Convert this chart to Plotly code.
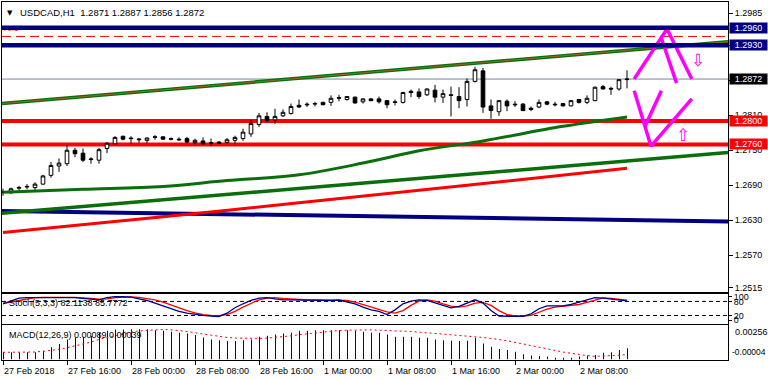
import plotly.graph_objects as go

# ---------------- data ----------------
bars = list(range(79))
opens = [1.2679,1.2677,1.2685,1.2687,1.2686,1.2692,1.2707,1.2723,1.2727,1.2750,
         1.2745,1.2734,1.2733,1.2753,1.2761,1.2774,1.2771,1.2768,1.2767,1.2772,
         1.2773,1.2770,1.2769,1.2770,1.2763,1.2766,1.2763,1.2764,1.2763,1.2767,
         1.2770,1.2778,1.2794,1.2808,1.2802,1.2809,1.2813,1.2827,1.2829,1.2829,
         1.2832,1.2832,1.2839,1.2837,1.2841,1.2833,1.2838,1.2838,1.2835,1.2833,
         1.2832,1.2851,1.2850,1.2845,1.2853,1.2841,1.2845,1.2842,1.2837,1.2868,
         1.2886,1.2826,1.2816,1.2834,1.2829,1.2829,1.2822,1.2824,1.2833,1.2829,
         1.2830,1.2826,1.2837,1.2832,1.2835,1.2859,1.2856,1.2855,1.2871]
highs = [1.2684,1.2686,1.2689,1.2692,1.2695,1.2708,1.2730,1.2736,1.2759,1.2754,
         1.2753,1.2738,1.2754,1.2764,1.2774,1.2775,1.2774,1.2771,1.2772,1.2776,
         1.2774,1.2772,1.2772,1.2773,1.2770,1.2772,1.2770,1.2766,1.2771,1.2775,
         1.2787,1.2803,1.2814,1.2815,1.2821,1.2820,1.2830,1.2837,1.2832,1.2833,
         1.2833,1.2844,1.2845,1.2843,1.2842,1.2839,1.2839,1.2842,1.2836,1.2837,
         1.2850,1.2854,1.2856,1.2856,1.2862,1.2854,1.2859,1.2858,1.2873,1.2893,
         1.2891,1.2837,1.2835,1.2837,1.2834,1.2831,1.2825,1.2837,1.2834,1.2833,
         1.2831,1.2836,1.2838,1.2844,1.2859,1.2862,1.2859,1.2872,1.2887]
lows = [1.2672,1.2676,1.2680,1.2683,1.2680,1.2691,1.2703,1.2713,1.2723,1.2738,
        1.2730,1.2727,1.2727,1.2745,1.2760,1.2767,1.2761,1.2763,1.2762,1.2768,
        1.2768,1.2767,1.2766,1.2762,1.2760,1.2759,1.2757,1.2761,1.2762,1.2760,
        1.2766,1.2773,1.2790,1.2798,1.2795,1.2807,1.2811,1.2823,1.2824,1.2825,
        1.2827,1.2826,1.2834,1.2835,1.2830,1.2830,1.2834,1.2830,1.2822,1.2827,
        1.2830,1.2841,1.2838,1.2843,1.2832,1.2831,1.2808,1.2822,1.2825,1.2866,
        1.2814,1.2804,1.2809,1.2817,1.2824,1.2817,1.2817,1.2822,1.2827,1.2825,
        1.2825,1.2825,1.2830,1.2829,1.2834,1.2854,1.2845,1.2852,1.2856]
closes = [1.2678,1.2684,1.2686,1.2688,1.2692,1.2706,1.2724,1.2728,1.2750,1.2744,
          1.2733,1.2735,1.2751,1.2762,1.2772,1.2769,1.2770,1.2769,1.2771,1.2773,
          1.2769,1.2769,1.2768,1.2764,1.2767,1.2761,1.2762,1.2762,1.2768,1.2772,
          1.2781,1.2796,1.2809,1.2801,1.2808,1.2815,1.2825,1.2824,1.2828,1.2830,
          1.2828,1.2839,1.2840,1.2842,1.2831,1.2838,1.2835,1.2833,1.2828,1.2832,
          1.2849,1.2849,1.2842,1.2855,1.2841,1.2847,1.2844,1.2835,1.2868,1.2888,
          1.2824,1.2818,1.2835,1.2826,1.2828,1.2818,1.2820,1.2832,1.2829,1.2828,
          1.2826,1.2835,1.2832,1.2839,1.2858,1.2855,1.2855,1.2871,1.2872]

stoch_k = [70,81,94,96,96,98,98,96,98,96,
           93,90,87,96,100,100,98,91,84,73,
           61,50,38,30,24,21,18,16,30,53,
           70,84,94,96,91,87,87,86,84,84,
           84,84,86,77,70,56,44,38,24,44,
           70,81,87,84,73,61,53,59,73,87,
           73,41,18,16,16,16,27,49,61,61,
           61,67,76,87,96,94,89,86,82.1138]
stoch_d = [73,76,84,91,96,97,98,98,97,97,
           96,93,90,91,96,98,99,97,93,87,
           77,64,53,41,31,24,21,20,24,38,
           56,73,87,94,96,93,90,89,87,87,
           87,87,87,84,77,67,56,44,36,30,
           41,63,81,87,81,70,60,56,61,73,
           76,63,41,24,18,18,21,34,47,56,
           59,61,67,76,87,95,93,90,85.7772]

macd_main = [0.00057,0.00057,0.00057,0.00057,0.00057,0.00070,0.00097,0.00124,0.00162,0.00178,
             0.00183,0.00189,0.00216,0.00232,0.00243,0.00243,0.00245,0.00245,0.00245,0.00237,
             0.00232,0.00224,0.00216,0.00210,0.00197,0.00178,0.00162,0.00156,0.00148,0.00148,
             0.00156,0.00162,0.00183,0.00191,0.00202,0.00210,0.00216,0.00232,0.00232,0.00237,
             0.00237,0.00237,0.00237,0.00237,0.00232,0.00224,0.00216,0.00216,0.00202,0.00183,
             0.00183,0.00183,0.00175,0.00175,0.00162,0.00156,0.00151,0.00148,0.00151,0.00175,
             0.00129,0.00102,0.00084,0.00076,0.00062,0.00040,0.00030,0.00027,0.00022,0.00013,
             0.00008,0.00013,0.00022,0.00030,0.00035,0.00054,0.00057,0.00076,0.00089]
macd_signal = [0.00057,0.00057,0.00057,0.00057,0.00059,0.00065,0.00070,0.00081,0.00094,0.00108,
               0.00124,0.00140,0.00162,0.00178,0.00194,0.00210,0.00221,0.00232,0.00237,0.00243,
               0.00243,0.00240,0.00235,0.00227,0.00216,0.00205,0.00194,0.00186,0.00178,0.00173,
               0.00170,0.00170,0.00170,0.00173,0.00178,0.00183,0.00191,0.00200,0.00208,0.00216,
               0.00224,0.00229,0.00235,0.00237,0.00240,0.00240,0.00240,0.00237,0.00235,0.00232,
               0.00229,0.00227,0.00221,0.00216,0.00208,0.00202,0.00197,0.00191,0.00189,0.00186,
               0.00178,0.00170,0.00162,0.00151,0.00138,0.00124,0.00111,0.00097,0.00084,0.00070,
               0.00059,0.00049,0.00038,0.00030,0.00024,0.00025,0.00028,0.00033,0.00039]

time_label_bars = [0, 8, 16, 24, 32, 40, 48, 56, 64, 72]
time_labels = ["27 Feb 2018", "27 Feb 16:00", "28 Feb 00:00", "28 Feb 08:00", "28 Feb 16:00",
               "1 Mar 00:00", "1 Mar 08:00", "1 Mar 16:00", "2 Mar 00:00", "2 Mar 08:00"]

price_ticks = [1.2985, 1.2930, 1.2870, 1.2810, 1.2750, 1.2690, 1.2630, 1.2570, 1.2515]

ma_green_bars = [0, 10, 20, 28, 37, 45, 52, 60, 70, 78]
ma_green = [1.2678, 1.2683, 1.2688, 1.2698, 1.2708, 1.2728, 1.2749, 1.2766, 1.2791, 1.2807]
ma_red_bars = [0, 20, 37, 58, 78]
ma_red = [1.2609, 1.2636, 1.2660, 1.2690, 1.2719]

resistance_levels = [1.2960, 1.2930]
support_levels = [1.2800, 1.2760]
bid_price = 1.2872
dashed_level = 1.2945

trend_green_top = [1.2830, 1.2936]
trend_green_low = [1.2642, 1.2746]
trend_navy = [1.2646, 1.2628]

fc_up_bars = [78.9, 83.0, 86.1]
fc_up_prices = [1.2872, 1.2958, 1.2872]
fc_up2_bars = [82.3, 84.2]
fc_up2_prices = [1.2942, 1.2865]
fc_dn_bars = [78.9, 81.0, 86.1]
fc_dn_prices = [1.2852, 1.2757, 1.2838]
fc_dn2_bars = [82.3, 80.25]
fc_dn2_prices = [1.2852, 1.2791]
arrow_down_pos = (86.9, 1.2905)
arrow_up_pos = (85.0, 1.2776)

# ---------------- figure ----------------
X_RANGE = [-0.125, 90.625]
Y_MAIN = [1.2507, 1.3004]
Y_STOCH = [-14, 110]
Y_MACD = [-0.00006, 0.00282]

NAVY = "#000080"
RED = "#ff0000"
GREEN = "#0a6e0a"
MAG = "#ff00ff"
FONT = "Liberation Sans, Arial, sans-serif"

fig = go.Figure()

# trendlines
fig.add_trace(go.Scatter(x=X_RANGE, y=trend_navy, mode="lines",
                         line=dict(color=NAVY, width=4), hoverinfo="skip"))
fig.add_trace(go.Scatter(x=X_RANGE, y=trend_green_low, mode="lines",
                         line=dict(color=GREEN, width=3.5), hoverinfo="skip"))
fig.add_trace(go.Scatter(x=X_RANGE, y=trend_green_top, mode="lines",
                         line=dict(color=GREEN, width=3.5), hoverinfo="skip"))
fig.add_trace(go.Scatter(x=X_RANGE, y=trend_green_top, mode="lines",
                         line=dict(color="#8a6a2a", width=1), hoverinfo="skip"))
# moving averages
fig.add_trace(go.Scatter(x=ma_red_bars, y=ma_red, mode="lines",
                         line=dict(color=RED, width=3, shape="spline"), hoverinfo="skip"))
fig.add_trace(go.Scatter(x=ma_green_bars, y=ma_green, mode="lines",
                         line=dict(color=GREEN, width=3, shape="spline"), hoverinfo="skip"))
# small red label under the top line
fig.add_trace(go.Scatter(x=[0.0], y=[1.2958], mode="text", text=["70.1"],
                         textposition="middle right",
                         textfont=dict(color=RED, size=8, family=FONT), hoverinfo="skip"))

# candles
fig.add_trace(go.Candlestick(
    x=bars, open=opens, high=highs, low=lows, close=closes,
    increasing=dict(line=dict(color="black", width=1), fillcolor="white"),
    decreasing=dict(line=dict(color="black", width=1), fillcolor="black"),
    whiskerwidth=0, hoverinfo="skip"))

# forecast zigzags
for bx, py in [(fc_up_bars, fc_up_prices), (fc_up2_bars, fc_up2_prices),
               (fc_dn_bars, fc_dn_prices), (fc_dn2_bars, fc_dn2_prices)]:
    fig.add_trace(go.Scatter(x=bx, y=py, mode="lines",
                             line=dict(color=MAG, width=3.5), hoverinfo="skip"))

# stochastic
fig.add_trace(go.Scatter(x=bars, y=stoch_d, mode="lines", xaxis="x2", yaxis="y2",
                         line=dict(color=RED, width=1.3), hoverinfo="skip"))
fig.add_trace(go.Scatter(x=bars, y=stoch_k, mode="lines", xaxis="x2", yaxis="y2",
                         line=dict(color=NAVY, width=1.3), hoverinfo="skip"))

# MACD (1-px histogram lines, aligned on whole pixels)
fig.add_trace(go.Bar(x=bars, y=macd_main, xaxis="x3", yaxis="y3", width=0.125, offset=0,
                     marker=dict(color=NAVY, line=dict(width=0)), hoverinfo="skip"))
fig.add_trace(go.Scatter(x=bars, y=macd_signal, mode="lines", xaxis="x3", yaxis="y3",
                         line=dict(color=RED, width=1, dash="2px,3px"), hoverinfo="skip"))

shapes = []
for lvl in support_levels:
    shapes.append(dict(type="line", xref="paper", x0=0, x1=1, yref="y", y0=lvl, y1=lvl,
                       line=dict(color=RED, width=4), layer="below"))
shapes.append(dict(type="line", xref="paper", x0=0, x1=1, yref="y", y0=bid_price, y1=bid_price,
                   line=dict(color="#778899", width=1), layer="below"))
shapes.append(dict(type="line", xref="paper", x0=0, x1=1, yref="y", y0=dashed_level, y1=dashed_level,
                   line=dict(color=RED, width=1, dash="9px,5px"), layer="below"))
for lvl in resistance_levels:
    shapes.append(dict(type="line", xref="paper", x0=0, x1=1, yref="y", y0=lvl, y1=lvl,
                       line=dict(color=NAVY, width=4.5), layer="above"))
for lvl in [80, 20]:
    shapes.append(dict(type="line", xref="paper", x0=0, x1=1, yref="y2", y0=lvl, y1=lvl,
                       line=dict(color="black", width=1, dash="4px,3px"), layer="below"))

annotations = []
# price boxes on the right axis
for lvl, col in [(resistance_levels[0], NAVY), (resistance_levels[1], NAVY), (bid_price, "black"),
                 (support_levels[0], RED), (support_levels[1], RED)]:
    annotations.append(dict(xref="paper", x=1, xanchor="left", xshift=1, yref="y", y=lvl,
                            yanchor="middle", text=f"{lvl:.4f}", showarrow=False,
                            font=dict(color="white", size=9, family=FONT),
                            bgcolor=col, width=37, height=10, borderpad=0, align="center"))
# header
annotations.append(dict(xref="paper", x=0, xanchor="left", xshift=3, yref="paper", y=1,
                        yanchor="top", yshift=-5, text="▼", showarrow=False,
                        font=dict(size=7, color="black", family="DejaVu Sans")))
annotations.append(dict(xref="paper", x=0, xanchor="left", xshift=16, yref="paper", y=1,
                        yanchor="top", yshift=-3,
                        text="USDCAD,H1\u00a0\u00a01.2871 1.2887 1.2856 1.2872",
                        showarrow=False, font=dict(size=9.5, color="black", family=FONT)))
# indicator labels
annotations.append(dict(xref="paper", x=0, xanchor="left", xshift=5, yref="y2 domain", y=0.70,
                        yanchor="middle", text=f"Stoch(5,3,3) {stoch_k[-1]:.4f} {stoch_d[-1]:.4f}",
                        showarrow=False, font=dict(size=9, color="black", family=FONT)))
annotations.append(dict(xref="paper", x=0, xanchor="left", xshift=5, yref="y3 domain", y=0.70,
                        yanchor="middle",
                        text=f"MACD(12,26,9) {macd_main[-1]:.5f} {macd_signal[-1]:.5f}",
                        showarrow=False, font=dict(size=9, color="black", family=FONT)))
annotations.append(dict(xref="paper", x=1, xanchor="left", xshift=5, yref="y3 domain", y=0.80,
                        yanchor="middle", text="0.00256", showarrow=False,
                        font=dict(size=9, color="black", family=FONT)))
annotations.append(dict(xref="paper", x=1, xanchor="left", xshift=2, yref="y3 domain", y=0.22,
                        yanchor="middle", text="-0.00004", showarrow=False,
                        font=dict(size=8.5, color="black", family=FONT)))
# time labels
for b, lab in zip(time_label_bars, time_labels):
    annotations.append(dict(xref="x3", x=b, xanchor="left", xshift=-1, yref="paper", y=0,
                            yanchor="top", yshift=-4, text=lab, showarrow=False,
                            font=dict(size=9, color="black", family=FONT)))
# hollow arrows
annotations.append(dict(xref="x", x=arrow_down_pos[0], yref="y", y=arrow_down_pos[1],
                        text="⇩", showarrow=False,
                        font=dict(size=17, color=MAG, family="DejaVu Sans")))
annotations.append(dict(xref="x", x=arrow_up_pos[0], yref="y", y=arrow_up_pos[1],
                        text="⇧", showarrow=False,
                        font=dict(size=17, color=MAG, family="DejaVu Sans")))

axis_common = dict(showgrid=False, zeroline=False, showline=True, mirror=True,
                   linecolor="black", linewidth=1)

fig.update_layout(
    width=768, height=380,
    margin=dict(l=2, r=40, t=0, b=20),
    paper_bgcolor="white", plot_bgcolor="white",
    showlegend=False,
    font=dict(family=FONT, size=9, color="black"),
    boxgap=0.35,
    shapes=shapes, annotations=annotations,
    xaxis=dict(domain=[0, 1], range=X_RANGE, anchor="y", showticklabels=False, ticks="",
               rangeslider=dict(visible=False), **axis_common),
    xaxis2=dict(domain=[0, 1], matches="x", anchor="y2", showticklabels=False, ticks="",
                **axis_common),
    xaxis3=dict(domain=[0, 1], matches="x", anchor="y3", showticklabels=False,
                ticks="outside", ticklen=4, tickcolor="black",
                tickvals=time_label_bars, **axis_common),
    yaxis=dict(domain=[0.1897, 1], range=Y_MAIN, side="right", tickvals=price_ticks,
               ticktext=[f"{v:.4f}" for v in price_ticks], ticks="outside", ticklen=4,
               tickcolor="black", tickfont=dict(size=9, family=FONT), **axis_common),
    yaxis2=dict(domain=[0.1019, 0.1833], range=Y_STOCH, side="right",
                tickvals=[0, 20, 80, 100], ticktext=["0", "20", "80", "100"],
                ticks="outside", ticklen=3, tickcolor="black",
                tickfont=dict(size=9, family=FONT), **axis_common),
    yaxis3=dict(domain=[0, 0.0986], range=Y_MACD, side="right", showticklabels=False,
                ticks="", **axis_common),
)

fig.write_html("out.html")
